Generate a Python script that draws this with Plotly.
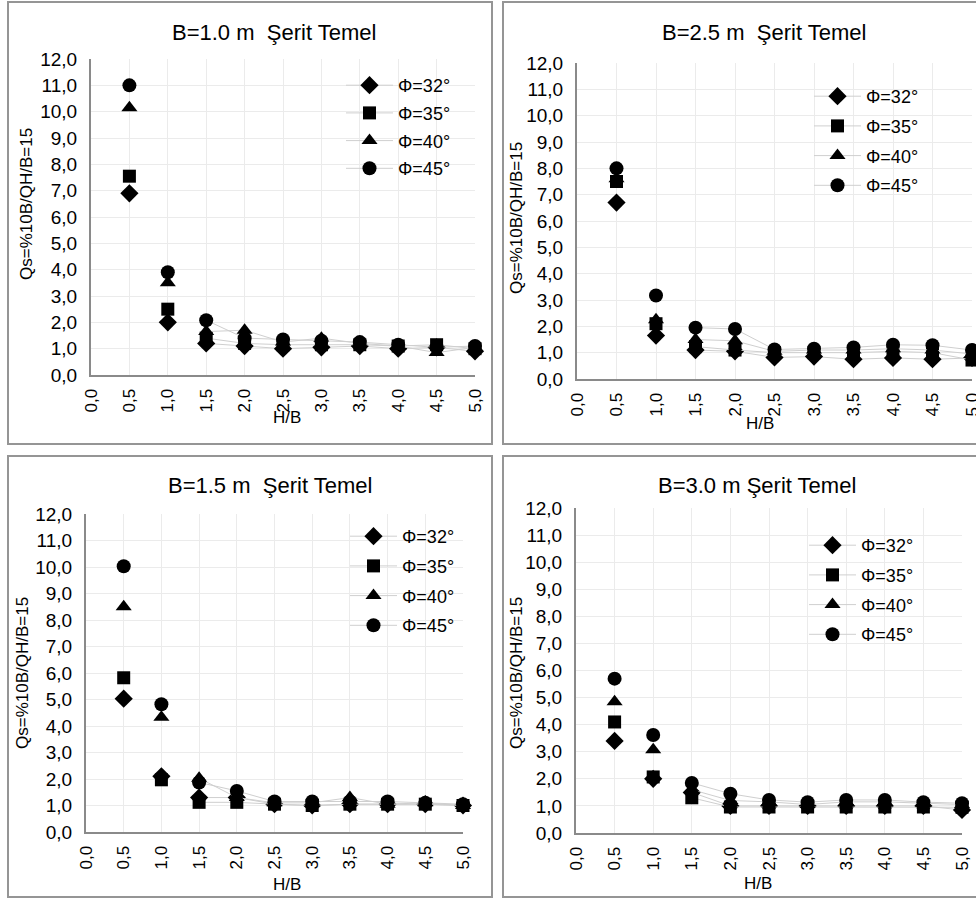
import plotly.graph_objects as go

W, H = 976, 899

# ---------------- data ----------------
hb = [0.5, 1.0, 1.5, 2.0, 2.5, 3.0, 3.5, 4.0, 4.5, 5.0]
series_names = ["Φ=32°", "Φ=35°", "Φ=40°", "Φ=45°"]
x_ticks = [0.0, 0.5, 1.0, 1.5, 2.0, 2.5, 3.0, 3.5, 4.0, 4.5, 5.0]
y_ticks = list(range(0, 13))

# B = 1.0 m
b10_phi32 = [6.9, 2.0, 1.2, 1.1, 1.0, 1.05, 1.1, 1.0, 1.05, 0.9]
b10_phi35 = [7.55, 2.5, 1.4, 1.2, 1.15, 1.15, 1.15, 1.1, 1.15, 1.0]
b10_phi40 = [10.15, 3.5, 1.65, 1.7, 1.25, 1.4, 1.2, 1.1, 0.85, 1.05]
b10_phi45 = [11.0, 3.9, 2.08, 1.4, 1.35, 1.3, 1.25, 1.15, 1.05, 1.1]

# B = 2.5 m
b25_phi32 = [6.7, 1.65, 1.1, 1.05, 0.82, 0.85, 0.75, 0.8, 0.75, 0.8]
b25_phi35 = [7.5, 2.1, 1.23, 1.1, 1.0, 1.0, 1.0, 1.05, 1.0, 0.72]
b25_phi40 = [7.6, 2.25, 1.5, 1.45, 1.05, 1.1, 1.1, 1.15, 1.1, 0.95]
b25_phi45 = [8.0, 3.17, 1.95, 1.9, 1.12, 1.15, 1.2, 1.3, 1.28, 1.1]

# B = 1.5 m
b15_phi32 = [5.03, 2.1, 1.3, 1.3, 1.05, 1.0, 1.05, 1.05, 1.05, 1.0]
b15_phi35 = [5.82, 1.97, 1.12, 1.12, 1.05, 1.0, 1.05, 1.05, 1.05, 1.0]
b15_phi40 = [8.5, 4.33, 2.03, 1.3, 1.1, 1.1, 1.3, 1.05, 1.1, 1.0]
b15_phi45 = [10.03, 4.82, 1.87, 1.55, 1.15, 1.15, 1.15, 1.15, 1.1, 1.05]

# B = 3.0 m
b30_phi32 = [3.4, 2.0, 1.5, 1.0, 1.0, 1.0, 1.0, 1.0, 1.0, 0.85]
b30_phi35 = [4.1, 2.07, 1.3, 0.96, 0.96, 0.96, 0.96, 0.96, 0.96, 0.95]
b30_phi40 = [4.85, 3.07, 1.6, 1.2, 1.15, 1.05, 1.15, 1.15, 1.1, 1.05]
b30_phi45 = [5.7, 3.62, 1.85, 1.45, 1.22, 1.14, 1.22, 1.22, 1.14, 1.1]

panel_titles = ["B=1.0 m  Şerit Temel", "B=2.5 m  Şerit Temel",
                "B=1.5 m  Şerit Temel", "B=3.0 m Şerit Temel"]
y_title = "Qs=%10B/QH/B=15"
x_title = "H/B"

panel_data = [
    [b10_phi32, b10_phi35, b10_phi40, b10_phi45],
    [b25_phi32, b25_phi35, b25_phi40, b25_phi45],
    [b15_phi32, b15_phi35, b15_phi40, b15_phi45],
    [b30_phi32, b30_phi35, b30_phi40, b30_phi45],
]
# connecting lines in the original start at the third point (H/B = 1.5)
LINE_START = 2

# ---------------- layout constants (pixels) ----------------
plot_px = [
    (91, 475, 59, 375),
    (577, 972, 63, 379),
    (86, 463, 514, 832),
    (576, 962, 508, 833),
]
border_px = [
    (8, 492, 2, 444),
    (503, 995, 2, 444),
    (8, 492, 456, 897),
    (503, 995, 456, 897),
]
title_px = [(274, 32), (764, 32), (270, 485), (757, 485)]
ytitle_px = [(27, 204), (517, 218), (22, 673), (516, 673)]
xtitle_px = [(287, 418), (760, 423), (287, 884), (758, 883)]
legend_px = [(341, 67, 1.3), (809, 78, 3.3), (345, 518, 3.3), (804, 527, 3.3)]

symbols = ["diamond", "square", "triangle-up", "circle"]
sizes = [14, 13, 14, 14]

FONT = "Liberation Sans, Arial, sans-serif"
TXT = "#000000"
LINE_COLOR = "#cfcfcf"


def px2x(p):
    return p / W


def px2y(p):
    return 1 - p / H


fig = go.Figure()
layout_upd = {}
annotations = []
shapes = []

for i in range(4):
    ax_id = "" if i == 0 else str(i + 1)
    xa = "x" + ax_id
    ya = "y" + ax_id
    leg = "legend" if i == 0 else "legend" + str(i + 1)
    for j in range(4):
        vals = panel_data[i][j]
        grp = "g%d_%d" % (i, j)
        mk = dict(symbol=symbols[j], size=sizes[j], color="#000000",
                  line=dict(width=0))
        fig.add_trace(go.Scatter(
            x=hb[LINE_START:], y=vals[LINE_START:], name=series_names[j],
            mode="lines+markers",
            line=dict(color=LINE_COLOR, width=1),
            marker=mk, xaxis=xa, yaxis=ya, legend=leg,
            legendgroup=grp, cliponaxis=False,
        ))
        fig.add_trace(go.Scatter(
            x=hb[:LINE_START], y=vals[:LINE_START], name=series_names[j],
            mode="markers", marker=mk, xaxis=xa, yaxis=ya, legend=leg,
            legendgroup=grp, showlegend=False, cliponaxis=False,
        ))
    xl, xr, yt, yb = plot_px[i]
    layout_upd["xaxis" + ax_id] = dict(
        domain=[px2x(xl), px2x(xr)], range=[0, 5], anchor=ya,
        tickmode="array", tickvals=x_ticks, tickformat=".1f",
        tickangle=-90, showgrid=True, gridcolor="#ebebeb", gridwidth=1,
        showline=True, linecolor="#8a8a8a", linewidth=2, ticks="",
        zeroline=False, ticklabelstandoff=5, automargin=False,
        ticklabeloverflow="allow",
        tickfont=dict(family=FONT, size=17, color=TXT),
    )
    layout_upd["yaxis" + ax_id] = dict(
        domain=[px2y(yb), px2y(yt)], range=[0, 12], anchor=xa,
        tickmode="array", tickvals=y_ticks, tickformat=".1f",
        showgrid=True, gridcolor="#ebebeb", gridwidth=1,
        showline=True, linecolor="#8a8a8a", linewidth=2, ticks="",
        zeroline=False, ticklabelstandoff=8, automargin=False,
        ticklabeloverflow="allow",
        tickfont=dict(family=FONT, size=19, color=TXT),
    )
    lx, ly, gap = legend_px[i]
    layout_upd[leg] = dict(
        x=px2x(lx), y=px2y(ly), xanchor="left", yanchor="top",
        xref="paper", yref="paper",
        bgcolor="rgba(0,0,0,0)", borderwidth=0,
        font=dict(family=FONT, size=18, color=TXT),
        tracegroupgap=gap, itemwidth=47,
    )
    bx0, bx1, by0, by1 = border_px[i]
    shapes.append(dict(type="rect", xref="paper", yref="paper",
                       x0=px2x(bx0), x1=px2x(bx1), y0=px2y(by1), y1=px2y(by0),
                       line=dict(color="#959595", width=2),
                       fillcolor="rgba(0,0,0,0)", layer="below"))
    tx, ty = title_px[i]
    annotations.append(dict(text=panel_titles[i], x=px2x(tx), y=px2y(ty),
                            xref="paper", yref="paper", showarrow=False,
                            xanchor="center", yanchor="middle",
                            font=dict(family=FONT, size=22, color=TXT)))
    yx, yy = ytitle_px[i]
    annotations.append(dict(text=y_title, x=px2x(yx), y=px2y(yy),
                            xref="paper", yref="paper", showarrow=False,
                            xanchor="center", yanchor="middle", textangle=-90,
                            font=dict(family=FONT, size=17, color=TXT)))
    hx, hy = xtitle_px[i]
    annotations.append(dict(text=x_title, x=px2x(hx), y=px2y(hy),
                            xref="paper", yref="paper", showarrow=False,
                            xanchor="center", yanchor="middle",
                            font=dict(family=FONT, size=17, color=TXT)))

fig.update_layout(**layout_upd)
fig.update_layout(
    template="none",
    width=W, height=H,
    margin=dict(l=0, r=0, t=0, b=0, pad=0, autoexpand=False),
    paper_bgcolor="#ffffff", plot_bgcolor="#ffffff",
    separators=",.",
    showlegend=True,
    annotations=annotations,
    shapes=shapes,
    font=dict(family=FONT, color=TXT),
)

fig.write_html(
    "out.html",
    config={"displayModeBar": False},
    post_script="document.documentElement.style.margin='0px';"
                "document.body.style.margin='0px';"
                "document.body.style.padding='0px';"
                "document.documentElement.style.overflow='hidden';"
                "document.body.style.overflow='hidden';",
)
